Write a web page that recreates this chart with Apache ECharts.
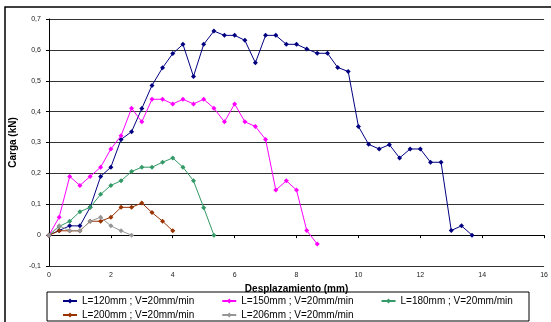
<!DOCTYPE html>
<html>
<head>
<meta charset="utf-8">
<script src="https://cdn.jsdelivr.net/npm/echarts@6/dist/echarts.min.js"></script>
<style>html,body{margin:0;padding:0;background:#fff}#c{width:551px;height:322px}</style>
</head>
<body>
<div id="c"></div>
<script>
// Displacement (mm) sampling shared by all series
var displacement = [0, 0.33, 0.67, 1, 1.33, 1.67, 2, 2.33, 2.67, 3, 3.33, 3.67, 4, 4.33, 4.67, 5, 5.33, 5.67, 6, 6.33, 6.67, 7, 7.33, 7.67, 8, 8.33, 8.67, 9, 9.33, 9.67, 10, 10.33, 10.67, 11, 11.33, 11.67, 12, 12.33, 12.67, 13, 13.33, 13.67];
var seriesNames = ['L=120mm ; V=20mm/min', 'L=150mm ; V=20mm/min', 'L=180mm ; V=20mm/min', 'L=200mm ; V=20mm/min', 'L=206mm ; V=20mm/min'];
var load120 = [0, 0.015, 0.03, 0.03, 0.09, 0.19, 0.22, 0.31, 0.335, 0.41, 0.485, 0.542, 0.588, 0.618, 0.514, 0.618, 0.661, 0.647, 0.647, 0.631, 0.558, 0.647, 0.647, 0.618, 0.618, 0.603, 0.589, 0.589, 0.543, 0.530, 0.352, 0.294, 0.279, 0.293, 0.25, 0.279, 0.279, 0.236, 0.236, 0.015, 0.03, 0];
var load150 = [0, 0.058, 0.19, 0.161, 0.19, 0.22, 0.279, 0.322, 0.411, 0.367, 0.44, 0.44, 0.425, 0.44, 0.425, 0.44, 0.411, 0.367, 0.425, 0.367, 0.352, 0.31, 0.146, 0.176, 0.146, 0.015, -0.029];
var load180 = [0, 0.028, 0.045, 0.076, 0.09, 0.132, 0.161, 0.176, 0.206, 0.22, 0.22, 0.236, 0.25, 0.22, 0.176, 0.089, 0];
var load200 = [0, 0.014, 0.014, 0.014, 0.045, 0.045, 0.058, 0.09, 0.09, 0.104, 0.073, 0.045, 0.014];
var load206 = [0, 0.03, 0.014, 0.014, 0.045, 0.058, 0.03, 0.014, 0];
var loads = [load120, load150, load180, load200, load206];
var colors = ['#000080', '#FF00FF', '#339966', '#993300', '#969696'];

var FONT = 'Liberation Sans, Arial, sans-serif';

function pairs(vals) {
  return vals.map(function (v, i) { return [displacement[i], v]; });
}

var chart = echarts.init(document.getElementById('c'), null, {renderer: 'canvas'});
var option = {
  animation: false,
  textStyle: {fontFamily: FONT},
  grid: {left: 42, right: 5, top: 19, bottom: 56, containLabel: false},
  xAxis: {
    type: 'value', min: 0, max: 16, interval: 2,
    name: 'Desplazamiento (mm)', nameLocation: 'middle', nameGap: 11,
    nameTextStyle: {fontFamily: FONT, fontSize: 10, fontWeight: 'bold', color: '#000'},
    axisLine: {onZero: true, lineStyle: {color: '#000', width: 1}},
    axisTick: {show: true, length: 3, lineStyle: {color: '#000'}},
    axisLabel: {fontFamily: FONT, fontSize: 7, color: '#222', margin: 6},
    splitLine: {show: false}
  },
  yAxis: {
    type: 'value', min: -0.1, max: 0.7, interval: 0.1,
    name: 'Carga (kN)', nameLocation: 'middle', nameGap: 24, nameRotate: 90,
    nameTextStyle: {fontFamily: FONT, fontSize: 10, fontWeight: 'bold', color: '#000'},
    axisLine: {show: true, lineStyle: {color: '#000', width: 1}},
    axisTick: {show: true, length: 3, lineStyle: {color: '#000'}},
    axisLabel: {fontFamily: FONT, fontSize: 7, color: '#222', margin: 8,
      formatter: function (v) { var r = Math.round(v * 10) / 10; return String(r).replace('.', ','); }},
    splitLine: {show: true, lineStyle: {color: '#333', width: 1}}
  },
  legend: [
    {data: seriesNames.slice(0, 3), left: 62, top: 296, itemWidth: 14, itemHeight: 6, itemGap: 27,
      textStyle: {fontFamily: FONT, fontSize: 10, color: '#000'}, padding: 0},
    {data: seriesNames.slice(3), left: 62, top: 310, itemWidth: 14, itemHeight: 6, itemGap: 27,
      textStyle: {fontFamily: FONT, fontSize: 10, color: '#000'}, padding: 0}
  ],
  graphic: [
    {type: 'rect', z: -10, shape: {x: 5, y: 7, width: 600, height: 400}, style: {fill: 'none', stroke: '#000', lineWidth: 1.5}},
    {type: 'rect', z: -10, shape: {x: 47, y: 292, width: 482, height: 29}, style: {fill: 'none', stroke: '#000', lineWidth: 1}}
  ],
  series: loads.map(function (vals, k) {
    return {
      name: seriesNames[k], type: 'line', data: pairs(vals),
      symbol: 'diamond', symbolSize: 5, showSymbol: true,
      lineStyle: {color: colors[k], width: 1},
      itemStyle: {color: colors[k]},
      emphasis: {disabled: true}
    };
  })
};
chart.setOption(option);
</script>
</body>
</html>
